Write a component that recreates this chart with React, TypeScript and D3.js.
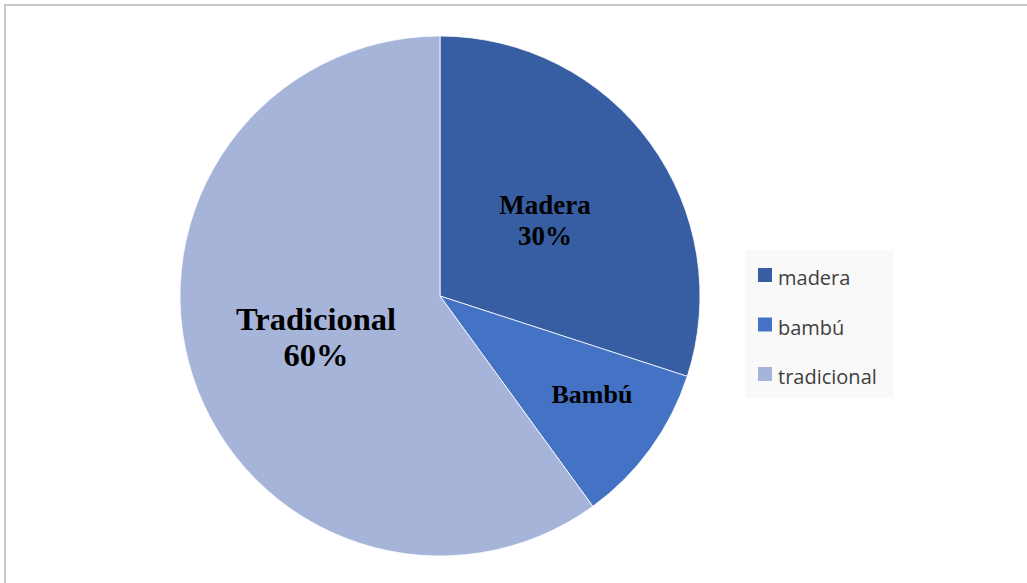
import React from "react";
import * as d3 from "d3";

const categories = ["Madera", "Bambú", "Tradicional"];
const legendLabels = ["madera", "bambú", "tradicional"];
const values = [30, 10, 60];
const colors = ["#375EA2", "#4472C4", "#A7B4DA"];

const W = 1027;
const H = 583;
const cx = 440;
const cy = 296;
const R = 260;

export default function App() {
  const pie = d3.pie<number>().sort(null).value((d) => d);
  const arcs = pie(values);
  const arcGen = d3.arc<d3.PieArcDatum<number>>().innerRadius(0).outerRadius(R);
  return (
    <svg
      width={W}
      height={H}
      style={{ position: "absolute", left: 0, top: 0, background: "#fff" }}
    >
      <rect x={5} y={5} width={W + 10} height={H + 10} fill="#fff" stroke="#c8c8c8" strokeWidth={2} />
      <g transform={`translate(${cx},${cy})`}>
        {arcs.map((a, i) => (
          <path key={i} d={arcGen(a) || ""} fill={colors[i]} stroke="#fff" strokeWidth={0.8} />
        ))}
      </g>
      <g fontFamily="'Liberation Serif', 'Times New Roman', serif" fontWeight="bold" fill="#000" textAnchor="middle">
        <text x={545} y={214} fontSize={27}>{categories[0]}</text>
        <text x={545} y={245} fontSize={27}>{values[0]}%</text>
        <text x={592} y={403} fontSize={26}>{categories[1]}</text>
        <text x={316} y={330} fontSize={32.5}>{categories[2]}</text>
        <text x={316} y={366} fontSize={32.5}>{values[2]}%</text>
      </g>
      <rect x={745} y={250} width={148} height={148} fill="#f9f9f9" />
      <g fontFamily="'Open Sans', 'Noto Sans', sans-serif" fontSize={20} fill="#404040">
        {legendLabels.map((l, i) => (
          <g key={l} transform={`translate(758,${268 + i * 49.5})`}>
            <rect x={0} y={0} width={14} height={14} fill={colors[i]} />
            <text x={20} y={17}>{l}</text>
          </g>
        ))}
      </g>
    </svg>
  );
}
